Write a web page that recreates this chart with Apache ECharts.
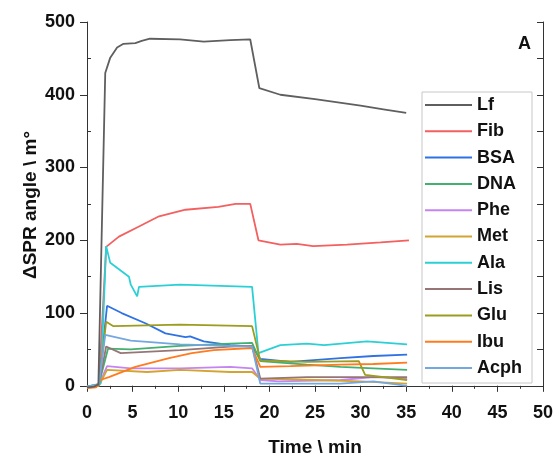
<!DOCTYPE html>
<html>
<head>
<meta charset="utf-8">
<script src="https://cdn.jsdelivr.net/npm/echarts@6/dist/echarts.min.js"></script>
<style>
  html, body { margin: 0; padding: 0; background: #fff; }
  #chart { width: 557px; height: 457px; }
</style>
</head>
<body>
<div id="chart"></div>
<script>
// data: [time (min), ΔSPR angle (m°)]
var names = ["Lf", "Fib", "BSA", "DNA", "Phe", "Met", "Ala", "Lis", "Glu", "Ibu", "Acph"];
var colors = ["#5f5f5f", "#f45f5f", "#2f72e4", "#42b070", "#c485f2", "#d4a430", "#2bd0d6", "#977575", "#9c9c1e", "#ff7b1e", "#74a7e0"];

var Lf = [[0,-2],[0.8,-1],[1.25,2],[2.0,430],[2.55,451],[3.3,465],[4,470],[5.3,471],[6,474],[6.9,477],[10.2,476],[12.8,473],[15.7,475],[17.9,476],[18.9,409],[21.2,400],[25,394],[30,385],[32.5,380],[35,375]];
var Fib = [[0,-1],[1.3,1],[2.1,191],[3.5,205],[5.7,219],[7.9,233],[10.8,242],[14.4,246],[16.3,250],[17.9,250],[18.8,200],[21.2,194],[23,195],[24.8,192],[28.5,194],[32.2,197],[35.3,200]];
var BSA = [[0,-2],[1.3,2],[2.2,110],[3.8,100],[6.4,86],[8.6,72],[10.8,67],[11.3,68],[12.8,61],[15.7,56],[18.1,54],[19,37],[22.3,33],[27.8,38],[31.4,41],[35.1,43]];
var DNA = [[0,-1],[1.3,2],[2.3,51],[4.8,50],[10.2,55],[15.7,58],[18.1,59],[19,34],[24.1,29],[27.8,26],[31.4,24],[35.1,22]];
var Phe = [[0,-2],[1.3,1],[2.2,27],[4.8,24],[10.2,24],[15.7,26],[18.1,24],[19,8],[21,6],[27.8,8],[31.4,12],[35.1,10]];
var Met = [[0,-3],[1.3,0],[2.2,22],[6.6,19],[10.2,22],[15.7,19],[18.1,19],[19,10],[25,8],[30,6],[35.1,3]];
var Ala = [[0,-1],[1.5,3],[2.1,192],[2.55,169],[4.6,150],[4.8,139],[5.5,123],[5.7,136],[10.2,139],[18.1,136],[18.8,45],[21.2,56],[24.1,58],[26,56],[30.7,61],[35.1,57]];
var Lis = [[0,-2],[1.3,1],[2.1,54],[3.7,45],[10.2,49],[15.7,54],[18.1,55],[19,10],[24.1,12],[31.4,12],[35.1,12]];
var Glu = [[0,-1],[1.3,2],[2.1,88],[2.9,82],[10.2,84],[18.1,82],[19,35],[24.1,33],[29.8,34],[30.5,15],[35.1,8]];
var Ibu = [[0,-3],[1.0,-2],[1.46,8],[2.4,12],[5.3,26],[9,38],[11.5,45],[13.9,49],[18.1,52],[19,26],[22.3,27],[27.8,29],[31.4,30],[35.1,32]];
var Acph = [[0,-1],[1.3,2],[2.0,70],[4.8,62],[10.2,57],[18.1,54],[19,3],[27.8,3],[31.4,6],[35.1,0]];

var yTicks = [0, 100, 200, 300, 400, 500];
var yMinor = [50, 150, 250, 350, 450];

var seriesData = [Lf, Fib, BSA, DNA, Phe, Met, Ala, Lis, Glu, Ibu, Acph];

var chartDom = document.getElementById("chart");
var myChart = echarts.init(chartDom);
var option;

var axisColor = "#333";
var fontBase = { fontFamily: "Liberation Sans", fontWeight: "bold", color: "#111" };

var series = [];
for (var i = 0; i < names.length; i++) {
  series.push({
    name: names[i],
    type: "line",
    data: seriesData[i],
    symbol: "none",
    color: colors[i],
    lineStyle: { width: 1.8, color: colors[i] },
    xAxisIndex: 0,
    yAxisIndex: 0,
    animation: false,
    z: names[i] === "Lf" ? 5 : 3,
  });
}

option = {
  animation: false,
  grid: { left: 87, right: 14, top: 22, bottom: 69, outerBoundsMode: "none" },
  title: {
    text: "A",
    left: 513,
    top: 30,
    textStyle: Object.assign({ fontSize: 18 }, fontBase),
  },
  legend: {
    orient: "vertical",
    left: 422,
    top: 92,
    data: names,
    icon: "rect",
    itemWidth: 47,
    itemHeight: 2,
    itemGap: 6.3,
    padding: [3, 10, 5, 3],
    borderColor: "#c8c8c8",
    borderWidth: 1,
    backgroundColor: "#fff",
    textStyle: Object.assign({ fontSize: 18, lineHeight: 20, padding: [0, 0, 0, 0] }, fontBase),
  },
  xAxis: [
    {
      type: "value",
      min: 0,
      max: 50,
      interval: 5,
      name: "Time \\ min",
      nameLocation: "middle",
      nameGap: 50,
      nameMoveOverlap: false,
      nameTextStyle: Object.assign({ fontSize: 19 }, fontBase),
      axisLine: { lineStyle: { color: axisColor, width: 1 } },
      axisTick: { inside: false, length: 6, lineStyle: { color: axisColor } },
      minorTick: { show: true, splitNumber: 2, length: 3, lineStyle: { color: axisColor } },
      axisLabel: Object.assign({ fontSize: 18, margin: 16 }, fontBase),
      splitLine: { show: false },
    },
    {
      type: "value",
      position: "top",
      min: 0,
      max: 50,
      interval: 5,
      axisLine: { lineStyle: { color: axisColor, width: 1 } },
      axisTick: { inside: true, length: 5, lineStyle: { color: axisColor } },
      axisLabel: { show: false },
      splitLine: { show: false },
    },
  ],
  yAxis: [
    {
      type: "value",
      min: -3,
      max: 500,
      name: "ΔSPR angle \\ m°",
      nameLocation: "middle",
      nameGap: 47,
      nameMoveOverlap: false,
      nameTextStyle: Object.assign({ fontSize: 19 }, fontBase),
      axisLine: { show: true, lineStyle: { color: axisColor, width: 1 } },
      axisTick: { show: true, length: 7, customValues: yTicks, lineStyle: { color: axisColor } },
      axisLabel: Object.assign({ fontSize: 18, margin: 12, customValues: yTicks }, fontBase),
      splitLine: { show: false },
    },
    {
      type: "value",
      min: -3,
      max: 500,
      axisLine: { show: false },
      axisTick: { show: true, length: 4, customValues: yMinor, lineStyle: { color: axisColor } },
      axisLabel: { show: false },
      splitLine: { show: false },
    },
    {
      type: "value",
      position: "right",
      min: -3,
      max: 500,
      axisLine: { show: true, lineStyle: { color: axisColor, width: 1 } },
      axisTick: { show: true, inside: true, length: 6, customValues: yTicks.concat(yMinor), lineStyle: { color: axisColor } },
      axisLabel: { show: false },
      splitLine: { show: false },
    },
  ],
  series: series,
};

option && myChart.setOption(option);
</script>
</body>
</html>
